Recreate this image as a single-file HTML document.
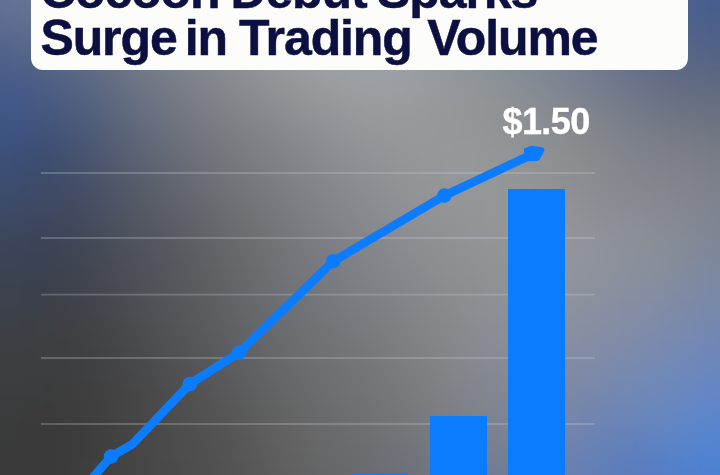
<!DOCTYPE html>
<html><head><meta charset="utf-8">
<style>
html,body{margin:0;padding:0;}
body{width:720px;height:475px;overflow:hidden;position:relative;background:#6f7178;}
#bg{position:absolute;left:0;top:0;width:720px;height:475px;filter:blur(14px);}
#bg i{position:absolute;display:block;width:20px;height:20px;}
#card{position:absolute;left:31px;top:-40px;width:657px;height:109.5px;background:#fcfcfb;border-radius:12px;}
.t{position:absolute;left:0;width:720px;height:50px;font:bold 50px/50px "Liberation Sans",sans-serif;color:#0c1040;white-space:nowrap;letter-spacing:-1.1px;-webkit-text-stroke:0.5px #0c1040;}
#l1{top:-34.5px;}
.t span{position:absolute;top:0;}
#l2{top:13px;}
#price{position:absolute;left:502.5px;top:101.3px;font:bold 36px "Liberation Sans",sans-serif;color:#fff;letter-spacing:-0.6px;-webkit-text-stroke:0.4px #fff;}
svg{position:absolute;left:0;top:0;}
</style></head>
<body>
<div id="bg"><i style="left:-60px;top:-60px;background:#637295"></i><i style="left:-40px;top:-60px;background:#637295"></i><i style="left:-20px;top:-60px;background:#637295"></i><i style="left:0px;top:-60px;background:#657395"></i><i style="left:20px;top:-60px;background:#687594"></i><i style="left:40px;top:-60px;background:#6b7793"></i><i style="left:60px;top:-60px;background:#6f7993"></i><i style="left:80px;top:-60px;background:#737d93"></i><i style="left:100px;top:-60px;background:#788094"></i><i style="left:120px;top:-60px;background:#7d8494"></i><i style="left:140px;top:-60px;background:#828896"></i><i style="left:160px;top:-60px;background:#878c97"></i><i style="left:180px;top:-60px;background:#8b8f9a"></i><i style="left:200px;top:-60px;background:#90939c"></i><i style="left:220px;top:-60px;background:#94979f"></i><i style="left:240px;top:-60px;background:#979aa1"></i><i style="left:260px;top:-60px;background:#9a9da4"></i><i style="left:280px;top:-60px;background:#9ca0a6"></i><i style="left:300px;top:-60px;background:#9ea1a8"></i><i style="left:320px;top:-60px;background:#9ea2a9"></i><i style="left:340px;top:-60px;background:#9ea3aa"></i><i style="left:360px;top:-60px;background:#9ca2aa"></i><i style="left:380px;top:-60px;background:#9aa0a9"></i><i style="left:400px;top:-60px;background:#979ea8"></i><i style="left:420px;top:-60px;background:#949ba6"></i><i style="left:440px;top:-60px;background:#8f97a4"></i><i style="left:460px;top:-60px;background:#8a93a1"></i><i style="left:480px;top:-60px;background:#858f9f"></i><i style="left:500px;top:-60px;background:#7f8a9d"></i><i style="left:520px;top:-60px;background:#79859b"></i><i style="left:540px;top:-60px;background:#737f99"></i><i style="left:560px;top:-60px;background:#6d7a97"></i><i style="left:580px;top:-60px;background:#667596"></i><i style="left:600px;top:-60px;background:#607094"></i><i style="left:620px;top:-60px;background:#5a6b92"></i><i style="left:640px;top:-60px;background:#546791"></i><i style="left:660px;top:-60px;background:#4f6390"></i><i style="left:680px;top:-60px;background:#4a6090"></i><i style="left:700px;top:-60px;background:#475d8f"></i><i style="left:720px;top:-60px;background:#455c8f"></i><i style="left:740px;top:-60px;background:#455c8f"></i><i style="left:760px;top:-60px;background:#455c8f"></i><i style="left:780px;top:-60px;background:#455c8f"></i><i style="left:-60px;top:-40px;background:#637295"></i><i style="left:-40px;top:-40px;background:#637295"></i><i style="left:-20px;top:-40px;background:#637295"></i><i style="left:0px;top:-40px;background:#657395"></i><i style="left:20px;top:-40px;background:#687594"></i><i style="left:40px;top:-40px;background:#6b7793"></i><i style="left:60px;top:-40px;background:#6f7993"></i><i style="left:80px;top:-40px;background:#737d93"></i><i style="left:100px;top:-40px;background:#788094"></i><i style="left:120px;top:-40px;background:#7d8494"></i><i style="left:140px;top:-40px;background:#828896"></i><i style="left:160px;top:-40px;background:#878c97"></i><i style="left:180px;top:-40px;background:#8b8f9a"></i><i style="left:200px;top:-40px;background:#90939c"></i><i style="left:220px;top:-40px;background:#94979f"></i><i style="left:240px;top:-40px;background:#979aa1"></i><i style="left:260px;top:-40px;background:#9a9da4"></i><i style="left:280px;top:-40px;background:#9ca0a6"></i><i style="left:300px;top:-40px;background:#9ea1a8"></i><i style="left:320px;top:-40px;background:#9ea2a9"></i><i style="left:340px;top:-40px;background:#9ea3aa"></i><i style="left:360px;top:-40px;background:#9ca2aa"></i><i style="left:380px;top:-40px;background:#9aa0a9"></i><i style="left:400px;top:-40px;background:#979ea8"></i><i style="left:420px;top:-40px;background:#949ba6"></i><i style="left:440px;top:-40px;background:#8f97a4"></i><i style="left:460px;top:-40px;background:#8a93a1"></i><i style="left:480px;top:-40px;background:#858f9f"></i><i style="left:500px;top:-40px;background:#7f8a9d"></i><i style="left:520px;top:-40px;background:#79859b"></i><i style="left:540px;top:-40px;background:#737f99"></i><i style="left:560px;top:-40px;background:#6d7a97"></i><i style="left:580px;top:-40px;background:#667596"></i><i style="left:600px;top:-40px;background:#607094"></i><i style="left:620px;top:-40px;background:#5a6b92"></i><i style="left:640px;top:-40px;background:#546791"></i><i style="left:660px;top:-40px;background:#4f6390"></i><i style="left:680px;top:-40px;background:#4a6090"></i><i style="left:700px;top:-40px;background:#475d8f"></i><i style="left:720px;top:-40px;background:#455c8f"></i><i style="left:740px;top:-40px;background:#455c8f"></i><i style="left:760px;top:-40px;background:#455c8f"></i><i style="left:780px;top:-40px;background:#455c8f"></i><i style="left:-60px;top:-20px;background:#637295"></i><i style="left:-40px;top:-20px;background:#637295"></i><i style="left:-20px;top:-20px;background:#637295"></i><i style="left:0px;top:-20px;background:#657395"></i><i style="left:20px;top:-20px;background:#687594"></i><i style="left:40px;top:-20px;background:#6b7793"></i><i style="left:60px;top:-20px;background:#6f7993"></i><i style="left:80px;top:-20px;background:#737d93"></i><i style="left:100px;top:-20px;background:#788094"></i><i style="left:120px;top:-20px;background:#7d8494"></i><i style="left:140px;top:-20px;background:#828896"></i><i style="left:160px;top:-20px;background:#878c97"></i><i style="left:180px;top:-20px;background:#8b8f9a"></i><i style="left:200px;top:-20px;background:#90939c"></i><i style="left:220px;top:-20px;background:#94979f"></i><i style="left:240px;top:-20px;background:#979aa1"></i><i style="left:260px;top:-20px;background:#9a9da4"></i><i style="left:280px;top:-20px;background:#9ca0a6"></i><i style="left:300px;top:-20px;background:#9ea1a8"></i><i style="left:320px;top:-20px;background:#9ea2a9"></i><i style="left:340px;top:-20px;background:#9ea3aa"></i><i style="left:360px;top:-20px;background:#9ca2aa"></i><i style="left:380px;top:-20px;background:#9aa0a9"></i><i style="left:400px;top:-20px;background:#979ea8"></i><i style="left:420px;top:-20px;background:#949ba6"></i><i style="left:440px;top:-20px;background:#8f97a4"></i><i style="left:460px;top:-20px;background:#8a93a1"></i><i style="left:480px;top:-20px;background:#858f9f"></i><i style="left:500px;top:-20px;background:#7f8a9d"></i><i style="left:520px;top:-20px;background:#79859b"></i><i style="left:540px;top:-20px;background:#737f99"></i><i style="left:560px;top:-20px;background:#6d7a97"></i><i style="left:580px;top:-20px;background:#667596"></i><i style="left:600px;top:-20px;background:#607094"></i><i style="left:620px;top:-20px;background:#5a6b92"></i><i style="left:640px;top:-20px;background:#546791"></i><i style="left:660px;top:-20px;background:#4f6390"></i><i style="left:680px;top:-20px;background:#4a6090"></i><i style="left:700px;top:-20px;background:#475d8f"></i><i style="left:720px;top:-20px;background:#455c8f"></i><i style="left:740px;top:-20px;background:#455c8f"></i><i style="left:760px;top:-20px;background:#455c8f"></i><i style="left:780px;top:-20px;background:#455c8f"></i><i style="left:-60px;top:0px;background:#606f93"></i><i style="left:-40px;top:0px;background:#606f93"></i><i style="left:-20px;top:0px;background:#606f93"></i><i style="left:0px;top:0px;background:#627093"></i><i style="left:20px;top:0px;background:#657292"></i><i style="left:40px;top:0px;background:#687492"></i><i style="left:60px;top:0px;background:#6c7791"></i><i style="left:80px;top:0px;background:#717a91"></i><i style="left:100px;top:0px;background:#767e92"></i><i style="left:120px;top:0px;background:#7b8292"></i><i style="left:140px;top:0px;background:#808694"></i><i style="left:160px;top:0px;background:#858a96"></i><i style="left:180px;top:0px;background:#8a8e98"></i><i style="left:200px;top:0px;background:#8f929a"></i><i style="left:220px;top:0px;background:#93969d"></i><i style="left:240px;top:0px;background:#9699a0"></i><i style="left:260px;top:0px;background:#999da3"></i><i style="left:280px;top:0px;background:#9c9fa5"></i><i style="left:300px;top:0px;background:#9ea1a7"></i><i style="left:320px;top:0px;background:#9ea2a8"></i><i style="left:340px;top:0px;background:#9ea3a9"></i><i style="left:360px;top:0px;background:#9da2a9"></i><i style="left:380px;top:0px;background:#9ba1a8"></i><i style="left:400px;top:0px;background:#989ea7"></i><i style="left:420px;top:0px;background:#949ba5"></i><i style="left:440px;top:0px;background:#9098a3"></i><i style="left:460px;top:0px;background:#8b93a0"></i><i style="left:480px;top:0px;background:#868f9e"></i><i style="left:500px;top:0px;background:#808a9c"></i><i style="left:520px;top:0px;background:#7b859a"></i><i style="left:540px;top:0px;background:#748098"></i><i style="left:560px;top:0px;background:#6e7b96"></i><i style="left:580px;top:0px;background:#687595"></i><i style="left:600px;top:0px;background:#617093"></i><i style="left:620px;top:0px;background:#5b6b91"></i><i style="left:640px;top:0px;background:#566790"></i><i style="left:660px;top:0px;background:#50638f"></i><i style="left:680px;top:0px;background:#4c608e"></i><i style="left:700px;top:0px;background:#485e8e"></i><i style="left:720px;top:0px;background:#475d8d"></i><i style="left:740px;top:0px;background:#475d8d"></i><i style="left:760px;top:0px;background:#475d8d"></i><i style="left:780px;top:0px;background:#475d8d"></i><i style="left:-60px;top:20px;background:#596a90"></i><i style="left:-40px;top:20px;background:#596a90"></i><i style="left:-20px;top:20px;background:#596a90"></i><i style="left:0px;top:20px;background:#5b6b8f"></i><i style="left:20px;top:20px;background:#5e6c8e"></i><i style="left:40px;top:20px;background:#616f8e"></i><i style="left:60px;top:20px;background:#66728d"></i><i style="left:80px;top:20px;background:#6b758d"></i><i style="left:100px;top:20px;background:#71798d"></i><i style="left:120px;top:20px;background:#777e8e"></i><i style="left:140px;top:20px;background:#7c8290"></i><i style="left:160px;top:20px;background:#828691"></i><i style="left:180px;top:20px;background:#878b94"></i><i style="left:200px;top:20px;background:#8c8f97"></i><i style="left:220px;top:20px;background:#90939a"></i><i style="left:240px;top:20px;background:#94979d"></i><i style="left:260px;top:20px;background:#989ba0"></i><i style="left:280px;top:20px;background:#9b9ea3"></i><i style="left:300px;top:20px;background:#9da0a5"></i><i style="left:320px;top:20px;background:#9ea2a7"></i><i style="left:340px;top:20px;background:#9fa2a8"></i><i style="left:360px;top:20px;background:#9ea2a8"></i><i style="left:380px;top:20px;background:#9ca1a7"></i><i style="left:400px;top:20px;background:#999fa6"></i><i style="left:420px;top:20px;background:#969ca3"></i><i style="left:440px;top:20px;background:#9298a1"></i><i style="left:460px;top:20px;background:#8d949e"></i><i style="left:480px;top:20px;background:#88909c"></i><i style="left:500px;top:20px;background:#838b9a"></i><i style="left:520px;top:20px;background:#7d8698"></i><i style="left:540px;top:20px;background:#778196"></i><i style="left:560px;top:20px;background:#717c94"></i><i style="left:580px;top:20px;background:#6b7792"></i><i style="left:600px;top:20px;background:#657290"></i><i style="left:620px;top:20px;background:#5f6d8e"></i><i style="left:640px;top:20px;background:#59688c"></i><i style="left:660px;top:20px;background:#54658b"></i><i style="left:680px;top:20px;background:#50628a"></i><i style="left:700px;top:20px;background:#4d608a"></i><i style="left:720px;top:20px;background:#4c5f8a"></i><i style="left:740px;top:20px;background:#4c5f8a"></i><i style="left:760px;top:20px;background:#4c5f8a"></i><i style="left:780px;top:20px;background:#4c5f8a"></i><i style="left:-60px;top:40px;background:#51648c"></i><i style="left:-40px;top:40px;background:#51648c"></i><i style="left:-20px;top:40px;background:#51648c"></i><i style="left:0px;top:40px;background:#53648c"></i><i style="left:20px;top:40px;background:#56668a"></i><i style="left:40px;top:40px;background:#5a698a"></i><i style="left:60px;top:40px;background:#5f6c89"></i><i style="left:80px;top:40px;background:#657089"></i><i style="left:100px;top:40px;background:#6b7489"></i><i style="left:120px;top:40px;background:#72798a"></i><i style="left:140px;top:40px;background:#787e8b"></i><i style="left:160px;top:40px;background:#7e828d"></i><i style="left:180px;top:40px;background:#838790"></i><i style="left:200px;top:40px;background:#898b93"></i><i style="left:220px;top:40px;background:#8d9096"></i><i style="left:240px;top:40px;background:#929499"></i><i style="left:260px;top:40px;background:#96989d"></i><i style="left:280px;top:40px;background:#9a9ca0"></i><i style="left:300px;top:40px;background:#9c9fa3"></i><i style="left:320px;top:40px;background:#9ea1a5"></i><i style="left:340px;top:40px;background:#9ea1a6"></i><i style="left:360px;top:40px;background:#9ea2a6"></i><i style="left:380px;top:40px;background:#9da1a6"></i><i style="left:400px;top:40px;background:#9a9fa4"></i><i style="left:420px;top:40px;background:#979ca2"></i><i style="left:440px;top:40px;background:#93989f"></i><i style="left:460px;top:40px;background:#8f959c"></i><i style="left:480px;top:40px;background:#8a919a"></i><i style="left:500px;top:40px;background:#858d98"></i><i style="left:520px;top:40px;background:#808896"></i><i style="left:540px;top:40px;background:#7b8394"></i><i style="left:560px;top:40px;background:#757e93"></i><i style="left:580px;top:40px;background:#6f7991"></i><i style="left:600px;top:40px;background:#69748e"></i><i style="left:620px;top:40px;background:#636f8c"></i><i style="left:640px;top:40px;background:#5e6b89"></i><i style="left:660px;top:40px;background:#596787"></i><i style="left:680px;top:40px;background:#566486"></i><i style="left:700px;top:40px;background:#536286"></i><i style="left:720px;top:40px;background:#526286"></i><i style="left:740px;top:40px;background:#526286"></i><i style="left:760px;top:40px;background:#526286"></i><i style="left:780px;top:40px;background:#526286"></i><i style="left:-60px;top:60px;background:#4a5e8a"></i><i style="left:-40px;top:60px;background:#4a5e8a"></i><i style="left:-20px;top:60px;background:#4a5e8a"></i><i style="left:0px;top:60px;background:#4b5e88"></i><i style="left:20px;top:60px;background:#4e6087"></i><i style="left:40px;top:60px;background:#526386"></i><i style="left:60px;top:60px;background:#586685"></i><i style="left:80px;top:60px;background:#5e6a85"></i><i style="left:100px;top:60px;background:#656f85"></i><i style="left:120px;top:60px;background:#6d7486"></i><i style="left:140px;top:60px;background:#747987"></i><i style="left:160px;top:60px;background:#7a7e89"></i><i style="left:180px;top:60px;background:#7f838c"></i><i style="left:200px;top:60px;background:#85878e"></i><i style="left:220px;top:60px;background:#8a8c92"></i><i style="left:240px;top:60px;background:#8e9095"></i><i style="left:260px;top:60px;background:#939599"></i><i style="left:280px;top:60px;background:#97999d"></i><i style="left:300px;top:60px;background:#9a9ca0"></i><i style="left:320px;top:60px;background:#9c9ea2"></i><i style="left:340px;top:60px;background:#9da0a4"></i><i style="left:360px;top:60px;background:#9da0a4"></i><i style="left:380px;top:60px;background:#9ca0a4"></i><i style="left:400px;top:60px;background:#9a9ea3"></i><i style="left:420px;top:60px;background:#979ba0"></i><i style="left:440px;top:60px;background:#94989d"></i><i style="left:460px;top:60px;background:#90959b"></i><i style="left:480px;top:60px;background:#8c9298"></i><i style="left:500px;top:60px;background:#888e96"></i><i style="left:520px;top:60px;background:#838a94"></i><i style="left:540px;top:60px;background:#7e8593"></i><i style="left:560px;top:60px;background:#798091"></i><i style="left:580px;top:60px;background:#737b8f"></i><i style="left:600px;top:60px;background:#6d768d"></i><i style="left:620px;top:60px;background:#68728a"></i><i style="left:640px;top:60px;background:#636d87"></i><i style="left:660px;top:60px;background:#5f6a84"></i><i style="left:680px;top:60px;background:#5c6783"></i><i style="left:700px;top:60px;background:#5a6682"></i><i style="left:720px;top:60px;background:#596682"></i><i style="left:740px;top:60px;background:#596682"></i><i style="left:760px;top:60px;background:#596682"></i><i style="left:780px;top:60px;background:#596682"></i><i style="left:-60px;top:80px;background:#445a89"></i><i style="left:-40px;top:80px;background:#445a89"></i><i style="left:-20px;top:80px;background:#445a89"></i><i style="left:0px;top:80px;background:#455a88"></i><i style="left:20px;top:80px;background:#475b86"></i><i style="left:40px;top:80px;background:#4c5d83"></i><i style="left:60px;top:80px;background:#516182"></i><i style="left:80px;top:80px;background:#586581"></i><i style="left:100px;top:80px;background:#606a81"></i><i style="left:120px;top:80px;background:#677082"></i><i style="left:140px;top:80px;background:#6f7583"></i><i style="left:160px;top:80px;background:#757a85"></i><i style="left:180px;top:80px;background:#7b7e87"></i><i style="left:200px;top:80px;background:#80838a"></i><i style="left:220px;top:80px;background:#85878d"></i><i style="left:240px;top:80px;background:#8a8c91"></i><i style="left:260px;top:80px;background:#8f9095"></i><i style="left:280px;top:80px;background:#939599"></i><i style="left:300px;top:80px;background:#96989c"></i><i style="left:320px;top:80px;background:#989b9f"></i><i style="left:340px;top:80px;background:#9a9da0"></i><i style="left:360px;top:80px;background:#9b9ea2"></i><i style="left:380px;top:80px;background:#9b9ea2"></i><i style="left:400px;top:80px;background:#9a9ca0"></i><i style="left:420px;top:80px;background:#979a9e"></i><i style="left:440px;top:80px;background:#94989c"></i><i style="left:460px;top:80px;background:#929599"></i><i style="left:480px;top:80px;background:#8e9397"></i><i style="left:500px;top:80px;background:#8b9095"></i><i style="left:520px;top:80px;background:#878c93"></i><i style="left:540px;top:80px;background:#828792"></i><i style="left:560px;top:80px;background:#7e8390"></i><i style="left:580px;top:80px;background:#787f8e"></i><i style="left:600px;top:80px;background:#737a8c"></i><i style="left:620px;top:80px;background:#6d7689"></i><i style="left:640px;top:80px;background:#697185"></i><i style="left:660px;top:80px;background:#666e82"></i><i style="left:680px;top:80px;background:#636c81"></i><i style="left:700px;top:80px;background:#616b81"></i><i style="left:720px;top:80px;background:#606a81"></i><i style="left:740px;top:80px;background:#606a81"></i><i style="left:760px;top:80px;background:#606a81"></i><i style="left:780px;top:80px;background:#606a81"></i><i style="left:-60px;top:100px;background:#405888"></i><i style="left:-40px;top:100px;background:#405888"></i><i style="left:-20px;top:100px;background:#405888"></i><i style="left:0px;top:100px;background:#415887"></i><i style="left:20px;top:100px;background:#425884"></i><i style="left:40px;top:100px;background:#46597f"></i><i style="left:60px;top:100px;background:#4b5b7d"></i><i style="left:80px;top:100px;background:#52607c"></i><i style="left:100px;top:100px;background:#5a657d"></i><i style="left:120px;top:100px;background:#626b7e"></i><i style="left:140px;top:100px;background:#697080"></i><i style="left:160px;top:100px;background:#707581"></i><i style="left:180px;top:100px;background:#767983"></i><i style="left:200px;top:100px;background:#7b7e85"></i><i style="left:220px;top:100px;background:#808288"></i><i style="left:240px;top:100px;background:#85878c"></i><i style="left:260px;top:100px;background:#898b90"></i><i style="left:280px;top:100px;background:#8d8f94"></i><i style="left:300px;top:100px;background:#919397"></i><i style="left:320px;top:100px;background:#94969a"></i><i style="left:340px;top:100px;background:#96999d"></i><i style="left:360px;top:100px;background:#989a9e"></i><i style="left:380px;top:100px;background:#999b9f"></i><i style="left:400px;top:100px;background:#989a9e"></i><i style="left:420px;top:100px;background:#96989c"></i><i style="left:440px;top:100px;background:#95979b"></i><i style="left:460px;top:100px;background:#939699"></i><i style="left:480px;top:100px;background:#909497"></i><i style="left:500px;top:100px;background:#8d9195"></i><i style="left:520px;top:100px;background:#8a8e93"></i><i style="left:540px;top:100px;background:#868a91"></i><i style="left:560px;top:100px;background:#82868f"></i><i style="left:580px;top:100px;background:#7e838c"></i><i style="left:600px;top:100px;background:#797f8a"></i><i style="left:620px;top:100px;background:#747a88"></i><i style="left:640px;top:100px;background:#6f7686"></i><i style="left:660px;top:100px;background:#6d7383"></i><i style="left:680px;top:100px;background:#6b7181"></i><i style="left:700px;top:100px;background:#697081"></i><i style="left:720px;top:100px;background:#687081"></i><i style="left:740px;top:100px;background:#687081"></i><i style="left:760px;top:100px;background:#687081"></i><i style="left:780px;top:100px;background:#687081"></i><i style="left:-60px;top:120px;background:#3d5483"></i><i style="left:-40px;top:120px;background:#3d5483"></i><i style="left:-20px;top:120px;background:#3d5483"></i><i style="left:0px;top:120px;background:#3d5482"></i><i style="left:20px;top:120px;background:#3e537d"></i><i style="left:40px;top:120px;background:#415379"></i><i style="left:60px;top:120px;background:#475677"></i><i style="left:80px;top:120px;background:#4e5b77"></i><i style="left:100px;top:120px;background:#556078"></i><i style="left:120px;top:120px;background:#5d6679"></i><i style="left:140px;top:120px;background:#646b7b"></i><i style="left:160px;top:120px;background:#6b707d"></i><i style="left:180px;top:120px;background:#71757e"></i><i style="left:200px;top:120px;background:#767980"></i><i style="left:220px;top:120px;background:#7b7d83"></i><i style="left:240px;top:120px;background:#808287"></i><i style="left:260px;top:120px;background:#84868b"></i><i style="left:280px;top:120px;background:#888a8f"></i><i style="left:300px;top:120px;background:#8c8e93"></i><i style="left:320px;top:120px;background:#8f9196"></i><i style="left:340px;top:120px;background:#929599"></i><i style="left:360px;top:120px;background:#95979b"></i><i style="left:380px;top:120px;background:#96989c"></i><i style="left:400px;top:120px;background:#96989c"></i><i style="left:420px;top:120px;background:#96989b"></i><i style="left:440px;top:120px;background:#95979b"></i><i style="left:460px;top:120px;background:#949799"></i><i style="left:480px;top:120px;background:#929597"></i><i style="left:500px;top:120px;background:#909395"></i><i style="left:520px;top:120px;background:#8d9093"></i><i style="left:540px;top:120px;background:#8a8d91"></i><i style="left:560px;top:120px;background:#87898e"></i><i style="left:580px;top:120px;background:#84868c"></i><i style="left:600px;top:120px;background:#7f838a"></i><i style="left:620px;top:120px;background:#7a7f89"></i><i style="left:640px;top:120px;background:#767c87"></i><i style="left:660px;top:120px;background:#747985"></i><i style="left:680px;top:120px;background:#737883"></i><i style="left:700px;top:120px;background:#717683"></i><i style="left:720px;top:120px;background:#707583"></i><i style="left:740px;top:120px;background:#707583"></i><i style="left:760px;top:120px;background:#707583"></i><i style="left:780px;top:120px;background:#707583"></i><i style="left:-60px;top:140px;background:#3c517c"></i><i style="left:-40px;top:140px;background:#3c517c"></i><i style="left:-20px;top:140px;background:#3c517c"></i><i style="left:0px;top:140px;background:#3c507a"></i><i style="left:20px;top:140px;background:#3b4e75"></i><i style="left:40px;top:140px;background:#3e4f72"></i><i style="left:60px;top:140px;background:#435271"></i><i style="left:80px;top:140px;background:#4a5671"></i><i style="left:100px;top:140px;background:#515b72"></i><i style="left:120px;top:140px;background:#596174"></i><i style="left:140px;top:140px;background:#606675"></i><i style="left:160px;top:140px;background:#666b77"></i><i style="left:180px;top:140px;background:#6c7079"></i><i style="left:200px;top:140px;background:#72757c"></i><i style="left:220px;top:140px;background:#77797f"></i><i style="left:240px;top:140px;background:#7c7d82"></i><i style="left:260px;top:140px;background:#808187"></i><i style="left:280px;top:140px;background:#84858b"></i><i style="left:300px;top:140px;background:#87898f"></i><i style="left:320px;top:140px;background:#8b8d92"></i><i style="left:340px;top:140px;background:#8f9195"></i><i style="left:360px;top:140px;background:#919398"></i><i style="left:380px;top:140px;background:#94959a"></i><i style="left:400px;top:140px;background:#95979a"></i><i style="left:420px;top:140px;background:#96979b"></i><i style="left:440px;top:140px;background:#96989b"></i><i style="left:460px;top:140px;background:#95979a"></i><i style="left:480px;top:140px;background:#949698"></i><i style="left:500px;top:140px;background:#929496"></i><i style="left:520px;top:140px;background:#8f9294"></i><i style="left:540px;top:140px;background:#8d8f92"></i><i style="left:560px;top:140px;background:#8a8c8f"></i><i style="left:580px;top:140px;background:#87898d"></i><i style="left:600px;top:140px;background:#83868b"></i><i style="left:620px;top:140px;background:#7f838a"></i><i style="left:640px;top:140px;background:#7c8089"></i><i style="left:660px;top:140px;background:#7b7e87"></i><i style="left:680px;top:140px;background:#7a7d86"></i><i style="left:700px;top:140px;background:#777b85"></i><i style="left:720px;top:140px;background:#757a86"></i><i style="left:740px;top:140px;background:#757a86"></i><i style="left:760px;top:140px;background:#757a86"></i><i style="left:780px;top:140px;background:#757a86"></i><i style="left:-60px;top:160px;background:#3c4e75"></i><i style="left:-40px;top:160px;background:#3c4e75"></i><i style="left:-20px;top:160px;background:#3c4e75"></i><i style="left:0px;top:160px;background:#3c4e73"></i><i style="left:20px;top:160px;background:#3c4c6f"></i><i style="left:40px;top:160px;background:#3e4c6c"></i><i style="left:60px;top:160px;background:#424e6a"></i><i style="left:80px;top:160px;background:#48526b"></i><i style="left:100px;top:160px;background:#4f586c"></i><i style="left:120px;top:160px;background:#565d6e"></i><i style="left:140px;top:160px;background:#5c6270"></i><i style="left:160px;top:160px;background:#626772"></i><i style="left:180px;top:160px;background:#696c75"></i><i style="left:200px;top:160px;background:#6e7178"></i><i style="left:220px;top:160px;background:#73757b"></i><i style="left:240px;top:160px;background:#787a7f"></i><i style="left:260px;top:160px;background:#7c7e83"></i><i style="left:280px;top:160px;background:#808287"></i><i style="left:300px;top:160px;background:#84868b"></i><i style="left:320px;top:160px;background:#888a8f"></i><i style="left:340px;top:160px;background:#8b8d92"></i><i style="left:360px;top:160px;background:#8e9095"></i><i style="left:380px;top:160px;background:#919397"></i><i style="left:400px;top:160px;background:#939599"></i><i style="left:420px;top:160px;background:#95969a"></i><i style="left:440px;top:160px;background:#95979a"></i><i style="left:460px;top:160px;background:#959799"></i><i style="left:480px;top:160px;background:#949698"></i><i style="left:500px;top:160px;background:#939596"></i><i style="left:520px;top:160px;background:#919395"></i><i style="left:540px;top:160px;background:#8f9193"></i><i style="left:560px;top:160px;background:#8c8e91"></i><i style="left:580px;top:160px;background:#898b8f"></i><i style="left:600px;top:160px;background:#85888e"></i><i style="left:620px;top:160px;background:#83868c"></i><i style="left:640px;top:160px;background:#81848b"></i><i style="left:660px;top:160px;background:#80828a"></i><i style="left:680px;top:160px;background:#7e8189"></i><i style="left:700px;top:160px;background:#7b7f89"></i><i style="left:720px;top:160px;background:#797e89"></i><i style="left:740px;top:160px;background:#797e89"></i><i style="left:760px;top:160px;background:#797e89"></i><i style="left:780px;top:160px;background:#797e89"></i><i style="left:-60px;top:180px;background:#3d4d6e"></i><i style="left:-40px;top:180px;background:#3d4d6e"></i><i style="left:-20px;top:180px;background:#3d4d6e"></i><i style="left:0px;top:180px;background:#3d4c6d"></i><i style="left:20px;top:180px;background:#3d4b69"></i><i style="left:40px;top:180px;background:#3f4a66"></i><i style="left:60px;top:180px;background:#424c65"></i><i style="left:80px;top:180px;background:#474f65"></i><i style="left:100px;top:180px;background:#4d5466"></i><i style="left:120px;top:180px;background:#535968"></i><i style="left:140px;top:180px;background:#595e6a"></i><i style="left:160px;top:180px;background:#5f636d"></i><i style="left:180px;top:180px;background:#656870"></i><i style="left:200px;top:180px;background:#6b6d73"></i><i style="left:220px;top:180px;background:#707277"></i><i style="left:240px;top:180px;background:#75767b"></i><i style="left:260px;top:180px;background:#797a7f"></i><i style="left:280px;top:180px;background:#7d7f83"></i><i style="left:300px;top:180px;background:#818388"></i><i style="left:320px;top:180px;background:#84868c"></i><i style="left:340px;top:180px;background:#888a8f"></i><i style="left:360px;top:180px;background:#8b8d92"></i><i style="left:380px;top:180px;background:#8e9095"></i><i style="left:400px;top:180px;background:#919397"></i><i style="left:420px;top:180px;background:#939598"></i><i style="left:440px;top:180px;background:#949699"></i><i style="left:460px;top:180px;background:#949799"></i><i style="left:480px;top:180px;background:#949698"></i><i style="left:500px;top:180px;background:#939697"></i><i style="left:520px;top:180px;background:#929496"></i><i style="left:540px;top:180px;background:#909295"></i><i style="left:560px;top:180px;background:#8d9094"></i><i style="left:580px;top:180px;background:#8a8d92"></i><i style="left:600px;top:180px;background:#878a91"></i><i style="left:620px;top:180px;background:#868890"></i><i style="left:640px;top:180px;background:#85878e"></i><i style="left:660px;top:180px;background:#83858d"></i><i style="left:680px;top:180px;background:#81848c"></i><i style="left:700px;top:180px;background:#7e818c"></i><i style="left:720px;top:180px;background:#7c808c"></i><i style="left:740px;top:180px;background:#7c808c"></i><i style="left:760px;top:180px;background:#7c808c"></i><i style="left:780px;top:180px;background:#7c808c"></i><i style="left:-60px;top:200px;background:#3d4a68"></i><i style="left:-40px;top:200px;background:#3d4a68"></i><i style="left:-20px;top:200px;background:#3d4a68"></i><i style="left:0px;top:200px;background:#3e4a66"></i><i style="left:20px;top:200px;background:#3e4963"></i><i style="left:40px;top:200px;background:#3f4861"></i><i style="left:60px;top:200px;background:#41495f"></i><i style="left:80px;top:200px;background:#464d60"></i><i style="left:100px;top:200px;background:#4b5261"></i><i style="left:120px;top:200px;background:#515663"></i><i style="left:140px;top:200px;background:#565b65"></i><i style="left:160px;top:200px;background:#5c5f67"></i><i style="left:180px;top:200px;background:#61646b"></i><i style="left:200px;top:200px;background:#67696f"></i><i style="left:220px;top:200px;background:#6d6e73"></i><i style="left:240px;top:200px;background:#717377"></i><i style="left:260px;top:200px;background:#75777c"></i><i style="left:280px;top:200px;background:#797b80"></i><i style="left:300px;top:200px;background:#7d8085"></i><i style="left:320px;top:200px;background:#818489"></i><i style="left:340px;top:200px;background:#85878d"></i><i style="left:360px;top:200px;background:#898b90"></i><i style="left:380px;top:200px;background:#8c8e93"></i><i style="left:400px;top:200px;background:#8f9195"></i><i style="left:420px;top:200px;background:#919396"></i><i style="left:440px;top:200px;background:#929597"></i><i style="left:460px;top:200px;background:#939697"></i><i style="left:480px;top:200px;background:#949697"></i><i style="left:500px;top:200px;background:#939697"></i><i style="left:520px;top:200px;background:#939597"></i><i style="left:540px;top:200px;background:#919497"></i><i style="left:560px;top:200px;background:#8f9296"></i><i style="left:580px;top:200px;background:#8d8f95"></i><i style="left:600px;top:200px;background:#8a8d94"></i><i style="left:620px;top:200px;background:#898c93"></i><i style="left:640px;top:200px;background:#878a91"></i><i style="left:660px;top:200px;background:#858890"></i><i style="left:680px;top:200px;background:#838690"></i><i style="left:700px;top:200px;background:#7f8490"></i><i style="left:720px;top:200px;background:#7d8390"></i><i style="left:740px;top:200px;background:#7d8390"></i><i style="left:760px;top:200px;background:#7d8390"></i><i style="left:780px;top:200px;background:#7d8390"></i><i style="left:-60px;top:220px;background:#3c4761"></i><i style="left:-40px;top:220px;background:#3c4761"></i><i style="left:-20px;top:220px;background:#3c4761"></i><i style="left:0px;top:220px;background:#3c475f"></i><i style="left:20px;top:220px;background:#3c455d"></i><i style="left:40px;top:220px;background:#3d455a"></i><i style="left:60px;top:220px;background:#40475a"></i><i style="left:80px;top:220px;background:#444a5a"></i><i style="left:100px;top:220px;background:#494f5c"></i><i style="left:120px;top:220px;background:#4e535e"></i><i style="left:140px;top:220px;background:#535760"></i><i style="left:160px;top:220px;background:#585b62"></i><i style="left:180px;top:220px;background:#5e6066"></i><i style="left:200px;top:220px;background:#63656a"></i><i style="left:220px;top:220px;background:#696a6f"></i><i style="left:240px;top:220px;background:#6e6f73"></i><i style="left:260px;top:220px;background:#727478"></i><i style="left:280px;top:220px;background:#76787d"></i><i style="left:300px;top:220px;background:#7b7d82"></i><i style="left:320px;top:220px;background:#7f8186"></i><i style="left:340px;top:220px;background:#82858a"></i><i style="left:360px;top:220px;background:#86888e"></i><i style="left:380px;top:220px;background:#898b91"></i><i style="left:400px;top:220px;background:#8c8e93"></i><i style="left:420px;top:220px;background:#8f9194"></i><i style="left:440px;top:220px;background:#909396"></i><i style="left:460px;top:220px;background:#929496"></i><i style="left:480px;top:220px;background:#939597"></i><i style="left:500px;top:220px;background:#939697"></i><i style="left:520px;top:220px;background:#939598"></i><i style="left:540px;top:220px;background:#929599"></i><i style="left:560px;top:220px;background:#919499"></i><i style="left:580px;top:220px;background:#8f9298"></i><i style="left:600px;top:220px;background:#8d9097"></i><i style="left:620px;top:220px;background:#8b8f96"></i><i style="left:640px;top:220px;background:#898d95"></i><i style="left:660px;top:220px;background:#878b94"></i><i style="left:680px;top:220px;background:#838894"></i><i style="left:700px;top:220px;background:#7f8694"></i><i style="left:720px;top:220px;background:#7d8494"></i><i style="left:740px;top:220px;background:#7d8494"></i><i style="left:760px;top:220px;background:#7d8494"></i><i style="left:780px;top:220px;background:#7d8494"></i><i style="left:-60px;top:240px;background:#3b455a"></i><i style="left:-40px;top:240px;background:#3b455a"></i><i style="left:-20px;top:240px;background:#3b455a"></i><i style="left:0px;top:240px;background:#3b4458"></i><i style="left:20px;top:240px;background:#3a4256"></i><i style="left:40px;top:240px;background:#3b4254"></i><i style="left:60px;top:240px;background:#3f4554"></i><i style="left:80px;top:240px;background:#434856"></i><i style="left:100px;top:240px;background:#484c58"></i><i style="left:120px;top:240px;background:#4d515a"></i><i style="left:140px;top:240px;background:#51545c"></i><i style="left:160px;top:240px;background:#56585f"></i><i style="left:180px;top:240px;background:#5b5c62"></i><i style="left:200px;top:240px;background:#606267"></i><i style="left:220px;top:240px;background:#65676b"></i><i style="left:240px;top:240px;background:#6a6c70"></i><i style="left:260px;top:240px;background:#6f7175"></i><i style="left:280px;top:240px;background:#74767b"></i><i style="left:300px;top:240px;background:#787a7f"></i><i style="left:320px;top:240px;background:#7c7e84"></i><i style="left:340px;top:240px;background:#808288"></i><i style="left:360px;top:240px;background:#83858b"></i><i style="left:380px;top:240px;background:#87898e"></i><i style="left:400px;top:240px;background:#8a8c91"></i><i style="left:420px;top:240px;background:#8c8e92"></i><i style="left:440px;top:240px;background:#8e9194"></i><i style="left:460px;top:240px;background:#909395"></i><i style="left:480px;top:240px;background:#919496"></i><i style="left:500px;top:240px;background:#929597"></i><i style="left:520px;top:240px;background:#929599"></i><i style="left:540px;top:240px;background:#92959a"></i><i style="left:560px;top:240px;background:#92959b"></i><i style="left:580px;top:240px;background:#90939b"></i><i style="left:600px;top:240px;background:#8e929a"></i><i style="left:620px;top:240px;background:#8c9099"></i><i style="left:640px;top:240px;background:#8a8f98"></i><i style="left:660px;top:240px;background:#878d98"></i><i style="left:680px;top:240px;background:#838a98"></i><i style="left:700px;top:240px;background:#7f8799"></i><i style="left:720px;top:240px;background:#7c8699"></i><i style="left:740px;top:240px;background:#7c8699"></i><i style="left:760px;top:240px;background:#7c8699"></i><i style="left:780px;top:240px;background:#7c8699"></i><i style="left:-60px;top:260px;background:#3b4354"></i><i style="left:-40px;top:260px;background:#3b4354"></i><i style="left:-20px;top:260px;background:#3b4354"></i><i style="left:0px;top:260px;background:#3b4253"></i><i style="left:20px;top:260px;background:#3a4150"></i><i style="left:40px;top:260px;background:#3b414f"></i><i style="left:60px;top:260px;background:#3e434f"></i><i style="left:80px;top:260px;background:#424651"></i><i style="left:100px;top:260px;background:#474b54"></i><i style="left:120px;top:260px;background:#4c4f57"></i><i style="left:140px;top:260px;background:#51535a"></i><i style="left:160px;top:260px;background:#55575d"></i><i style="left:180px;top:260px;background:#595b60"></i><i style="left:200px;top:260px;background:#5e6064"></i><i style="left:220px;top:260px;background:#636569"></i><i style="left:240px;top:260px;background:#686a6e"></i><i style="left:260px;top:260px;background:#6d6f73"></i><i style="left:280px;top:260px;background:#717478"></i><i style="left:300px;top:260px;background:#75787d"></i><i style="left:320px;top:260px;background:#797c81"></i><i style="left:340px;top:260px;background:#7d7f85"></i><i style="left:360px;top:260px;background:#818389"></i><i style="left:380px;top:260px;background:#84868c"></i><i style="left:400px;top:260px;background:#87898e"></i><i style="left:420px;top:260px;background:#8a8c90"></i><i style="left:440px;top:260px;background:#8c8f92"></i><i style="left:460px;top:260px;background:#8e9194"></i><i style="left:480px;top:260px;background:#909395"></i><i style="left:500px;top:260px;background:#919497"></i><i style="left:520px;top:260px;background:#919499"></i><i style="left:540px;top:260px;background:#91949b"></i><i style="left:560px;top:260px;background:#91949c"></i><i style="left:580px;top:260px;background:#8f939c"></i><i style="left:600px;top:260px;background:#8d919c"></i><i style="left:620px;top:260px;background:#8a909c"></i><i style="left:640px;top:260px;background:#888f9c"></i><i style="left:660px;top:260px;background:#858d9c"></i><i style="left:680px;top:260px;background:#818a9d"></i><i style="left:700px;top:260px;background:#7d889e"></i><i style="left:720px;top:260px;background:#7b879f"></i><i style="left:740px;top:260px;background:#7b879f"></i><i style="left:760px;top:260px;background:#7b879f"></i><i style="left:780px;top:260px;background:#7b879f"></i><i style="left:-60px;top:280px;background:#3c424f"></i><i style="left:-40px;top:280px;background:#3c424f"></i><i style="left:-20px;top:280px;background:#3c424f"></i><i style="left:0px;top:280px;background:#3c414e"></i><i style="left:20px;top:280px;background:#3b404c"></i><i style="left:40px;top:280px;background:#3c404b"></i><i style="left:60px;top:280px;background:#3e424b"></i><i style="left:80px;top:280px;background:#41454d"></i><i style="left:100px;top:280px;background:#464950"></i><i style="left:120px;top:280px;background:#4b4e54"></i><i style="left:140px;top:280px;background:#505259"></i><i style="left:160px;top:280px;background:#54565c"></i><i style="left:180px;top:280px;background:#585a5f"></i><i style="left:200px;top:280px;background:#5d5f63"></i><i style="left:220px;top:280px;background:#616368"></i><i style="left:240px;top:280px;background:#66696d"></i><i style="left:260px;top:280px;background:#6b6e72"></i><i style="left:280px;top:280px;background:#6f7276"></i><i style="left:300px;top:280px;background:#73767b"></i><i style="left:320px;top:280px;background:#77797f"></i><i style="left:340px;top:280px;background:#7a7d82"></i><i style="left:360px;top:280px;background:#7e8086"></i><i style="left:380px;top:280px;background:#818389"></i><i style="left:400px;top:280px;background:#84868c"></i><i style="left:420px;top:280px;background:#878a8e"></i><i style="left:440px;top:280px;background:#8a8d90"></i><i style="left:460px;top:280px;background:#8c8f92"></i><i style="left:480px;top:280px;background:#8e9194"></i><i style="left:500px;top:280px;background:#8f9297"></i><i style="left:520px;top:280px;background:#909399"></i><i style="left:540px;top:280px;background:#90939b"></i><i style="left:560px;top:280px;background:#8f939d"></i><i style="left:580px;top:280px;background:#8d919e"></i><i style="left:600px;top:280px;background:#8a909e"></i><i style="left:620px;top:280px;background:#888e9f"></i><i style="left:640px;top:280px;background:#858da0"></i><i style="left:660px;top:280px;background:#828ca1"></i><i style="left:680px;top:280px;background:#7f8aa2"></i><i style="left:700px;top:280px;background:#7b88a4"></i><i style="left:720px;top:280px;background:#7987a5"></i><i style="left:740px;top:280px;background:#7987a5"></i><i style="left:760px;top:280px;background:#7987a5"></i><i style="left:780px;top:280px;background:#7987a5"></i><i style="left:-60px;top:300px;background:#3c414a"></i><i style="left:-40px;top:300px;background:#3c414a"></i><i style="left:-20px;top:300px;background:#3c414a"></i><i style="left:0px;top:300px;background:#3c4149"></i><i style="left:20px;top:300px;background:#3c4048"></i><i style="left:40px;top:300px;background:#3d4047"></i><i style="left:60px;top:300px;background:#3e4147"></i><i style="left:80px;top:300px;background:#414449"></i><i style="left:100px;top:300px;background:#45484c"></i><i style="left:120px;top:300px;background:#4a4c51"></i><i style="left:140px;top:300px;background:#4f5156"></i><i style="left:160px;top:300px;background:#53555a"></i><i style="left:180px;top:300px;background:#57595d"></i><i style="left:200px;top:300px;background:#5c5d61"></i><i style="left:220px;top:300px;background:#606266"></i><i style="left:240px;top:300px;background:#65676b"></i><i style="left:260px;top:300px;background:#696c70"></i><i style="left:280px;top:300px;background:#6d7074"></i><i style="left:300px;top:300px;background:#717478"></i><i style="left:320px;top:300px;background:#74777c"></i><i style="left:340px;top:300px;background:#787a7f"></i><i style="left:360px;top:300px;background:#7b7d82"></i><i style="left:380px;top:300px;background:#7e8086"></i><i style="left:400px;top:300px;background:#828488"></i><i style="left:420px;top:300px;background:#85878b"></i><i style="left:440px;top:300px;background:#888a8e"></i><i style="left:460px;top:300px;background:#8a8d91"></i><i style="left:480px;top:300px;background:#8c8f94"></i><i style="left:500px;top:300px;background:#8d9097"></i><i style="left:520px;top:300px;background:#8e9199"></i><i style="left:540px;top:300px;background:#8d919c"></i><i style="left:560px;top:300px;background:#8c919e"></i><i style="left:580px;top:300px;background:#8a90a0"></i><i style="left:600px;top:300px;background:#878ea1"></i><i style="left:620px;top:300px;background:#848da2"></i><i style="left:640px;top:300px;background:#828ca4"></i><i style="left:660px;top:300px;background:#7f8ba6"></i><i style="left:680px;top:300px;background:#7b89a8"></i><i style="left:700px;top:300px;background:#7788aa"></i><i style="left:720px;top:300px;background:#7587ab"></i><i style="left:740px;top:300px;background:#7587ab"></i><i style="left:760px;top:300px;background:#7587ab"></i><i style="left:780px;top:300px;background:#7587ab"></i><i style="left:-60px;top:320px;background:#3c4147"></i><i style="left:-40px;top:320px;background:#3c4147"></i><i style="left:-20px;top:320px;background:#3c4147"></i><i style="left:0px;top:320px;background:#3c4046"></i><i style="left:20px;top:320px;background:#3c4045"></i><i style="left:40px;top:320px;background:#3d4044"></i><i style="left:60px;top:320px;background:#3e4044"></i><i style="left:80px;top:320px;background:#414345"></i><i style="left:100px;top:320px;background:#444648"></i><i style="left:120px;top:320px;background:#494a4d"></i><i style="left:140px;top:320px;background:#4e4f52"></i><i style="left:160px;top:320px;background:#525357"></i><i style="left:180px;top:320px;background:#56575b"></i><i style="left:200px;top:320px;background:#5a5c5f"></i><i style="left:220px;top:320px;background:#5e6064"></i><i style="left:240px;top:320px;background:#636568"></i><i style="left:260px;top:320px;background:#676a6d"></i><i style="left:280px;top:320px;background:#6b6e71"></i><i style="left:300px;top:320px;background:#6f7175"></i><i style="left:320px;top:320px;background:#727578"></i><i style="left:340px;top:320px;background:#75787c"></i><i style="left:360px;top:320px;background:#797b7f"></i><i style="left:380px;top:320px;background:#7c7e82"></i><i style="left:400px;top:320px;background:#808286"></i><i style="left:420px;top:320px;background:#838589"></i><i style="left:440px;top:320px;background:#86888c"></i><i style="left:460px;top:320px;background:#888b90"></i><i style="left:480px;top:320px;background:#8a8d93"></i><i style="left:500px;top:320px;background:#8b8f96"></i><i style="left:520px;top:320px;background:#8b8f9a"></i><i style="left:540px;top:320px;background:#8a8f9d"></i><i style="left:560px;top:320px;background:#898fa0"></i><i style="left:580px;top:320px;background:#878ea2"></i><i style="left:600px;top:320px;background:#848da4"></i><i style="left:620px;top:320px;background:#818ca7"></i><i style="left:640px;top:320px;background:#7e8ba9"></i><i style="left:660px;top:320px;background:#7b8aab"></i><i style="left:680px;top:320px;background:#7889ae"></i><i style="left:700px;top:320px;background:#7487b0"></i><i style="left:720px;top:320px;background:#7287b1"></i><i style="left:740px;top:320px;background:#7287b1"></i><i style="left:760px;top:320px;background:#7287b1"></i><i style="left:780px;top:320px;background:#7287b1"></i><i style="left:-60px;top:340px;background:#3c4044"></i><i style="left:-40px;top:340px;background:#3c4044"></i><i style="left:-20px;top:340px;background:#3c4044"></i><i style="left:0px;top:340px;background:#3c3f43"></i><i style="left:20px;top:340px;background:#3c3f42"></i><i style="left:40px;top:340px;background:#3d3f41"></i><i style="left:60px;top:340px;background:#3e3f42"></i><i style="left:80px;top:340px;background:#404143"></i><i style="left:100px;top:340px;background:#434446"></i><i style="left:120px;top:340px;background:#47484a"></i><i style="left:140px;top:340px;background:#4c4d4f"></i><i style="left:160px;top:340px;background:#505154"></i><i style="left:180px;top:340px;background:#545558"></i><i style="left:200px;top:340px;background:#585a5c"></i><i style="left:220px;top:340px;background:#5d5e61"></i><i style="left:240px;top:340px;background:#616365"></i><i style="left:260px;top:340px;background:#65676a"></i><i style="left:280px;top:340px;background:#696b6e"></i><i style="left:300px;top:340px;background:#6d6f72"></i><i style="left:320px;top:340px;background:#707275"></i><i style="left:340px;top:340px;background:#737579"></i><i style="left:360px;top:340px;background:#76797c"></i><i style="left:380px;top:340px;background:#7a7c7f"></i><i style="left:400px;top:340px;background:#7e8083"></i><i style="left:420px;top:340px;background:#818387"></i><i style="left:440px;top:340px;background:#84878a"></i><i style="left:460px;top:340px;background:#86898e"></i><i style="left:480px;top:340px;background:#888b92"></i><i style="left:500px;top:340px;background:#888c96"></i><i style="left:520px;top:340px;background:#888d9a"></i><i style="left:540px;top:340px;background:#878d9e"></i><i style="left:560px;top:340px;background:#858da2"></i><i style="left:580px;top:340px;background:#838ca5"></i><i style="left:600px;top:340px;background:#808ba8"></i><i style="left:620px;top:340px;background:#7d8bab"></i><i style="left:640px;top:340px;background:#7a8aae"></i><i style="left:660px;top:340px;background:#7789b1"></i><i style="left:680px;top:340px;background:#7388b4"></i><i style="left:700px;top:340px;background:#6f87b7"></i><i style="left:720px;top:340px;background:#6d86b8"></i><i style="left:740px;top:340px;background:#6d86b8"></i><i style="left:760px;top:340px;background:#6d86b8"></i><i style="left:780px;top:340px;background:#6d86b8"></i><i style="left:-60px;top:360px;background:#3c3f41"></i><i style="left:-40px;top:360px;background:#3c3f41"></i><i style="left:-20px;top:360px;background:#3c3f41"></i><i style="left:0px;top:360px;background:#3c3f40"></i><i style="left:20px;top:360px;background:#3c3e3f"></i><i style="left:40px;top:360px;background:#3c3e3f"></i><i style="left:60px;top:360px;background:#3d3e40"></i><i style="left:80px;top:360px;background:#3f4042"></i><i style="left:100px;top:360px;background:#434344"></i><i style="left:120px;top:360px;background:#464748"></i><i style="left:140px;top:360px;background:#4a4b4c"></i><i style="left:160px;top:360px;background:#4f4f51"></i><i style="left:180px;top:360px;background:#535355"></i><i style="left:200px;top:360px;background:#575759"></i><i style="left:220px;top:360px;background:#5b5c5e"></i><i style="left:240px;top:360px;background:#5f6062"></i><i style="left:260px;top:360px;background:#636567"></i><i style="left:280px;top:360px;background:#67696b"></i><i style="left:300px;top:360px;background:#6b6d6e"></i><i style="left:320px;top:360px;background:#6e7072"></i><i style="left:340px;top:360px;background:#717375"></i><i style="left:360px;top:360px;background:#747679"></i><i style="left:380px;top:360px;background:#787a7d"></i><i style="left:400px;top:360px;background:#7b7d81"></i><i style="left:420px;top:360px;background:#7f8185"></i><i style="left:440px;top:360px;background:#828589"></i><i style="left:460px;top:360px;background:#84878d"></i><i style="left:480px;top:360px;background:#858991"></i><i style="left:500px;top:360px;background:#858a96"></i><i style="left:520px;top:360px;background:#848b9b"></i><i style="left:540px;top:360px;background:#838b9f"></i><i style="left:560px;top:360px;background:#818aa4"></i><i style="left:580px;top:360px;background:#7e8aa7"></i><i style="left:600px;top:360px;background:#7b8aab"></i><i style="left:620px;top:360px;background:#7889af"></i><i style="left:640px;top:360px;background:#7589b3"></i><i style="left:660px;top:360px;background:#7289b6"></i><i style="left:680px;top:360px;background:#6e88ba"></i><i style="left:700px;top:360px;background:#6a87bd"></i><i style="left:720px;top:360px;background:#6986be"></i><i style="left:740px;top:360px;background:#6986be"></i><i style="left:760px;top:360px;background:#6986be"></i><i style="left:780px;top:360px;background:#6986be"></i><i style="left:-60px;top:380px;background:#3c3e3f"></i><i style="left:-40px;top:380px;background:#3c3e3f"></i><i style="left:-20px;top:380px;background:#3c3e3f"></i><i style="left:0px;top:380px;background:#3c3d3e"></i><i style="left:20px;top:380px;background:#3c3d3d"></i><i style="left:40px;top:380px;background:#3c3c3d"></i><i style="left:60px;top:380px;background:#3d3d3e"></i><i style="left:80px;top:380px;background:#3f3f40"></i><i style="left:100px;top:380px;background:#424243"></i><i style="left:120px;top:380px;background:#464546"></i><i style="left:140px;top:380px;background:#49494a"></i><i style="left:160px;top:380px;background:#4d4d4f"></i><i style="left:180px;top:380px;background:#515153"></i><i style="left:200px;top:380px;background:#555556"></i><i style="left:220px;top:380px;background:#59595b"></i><i style="left:240px;top:380px;background:#5d5e5f"></i><i style="left:260px;top:380px;background:#626263"></i><i style="left:280px;top:380px;background:#666768"></i><i style="left:300px;top:380px;background:#696b6c"></i><i style="left:320px;top:380px;background:#6c6e6f"></i><i style="left:340px;top:380px;background:#6f7173"></i><i style="left:360px;top:380px;background:#727476"></i><i style="left:380px;top:380px;background:#76787a"></i><i style="left:400px;top:380px;background:#797b7e"></i><i style="left:420px;top:380px;background:#7d7f82"></i><i style="left:440px;top:380px;background:#7f8287"></i><i style="left:460px;top:380px;background:#81858b"></i><i style="left:480px;top:380px;background:#828790"></i><i style="left:500px;top:380px;background:#828896"></i><i style="left:520px;top:380px;background:#81899c"></i><i style="left:540px;top:380px;background:#7e89a1"></i><i style="left:560px;top:380px;background:#7c88a6"></i><i style="left:580px;top:380px;background:#7987aa"></i><i style="left:600px;top:380px;background:#7687af"></i><i style="left:620px;top:380px;background:#7388b3"></i><i style="left:640px;top:380px;background:#7088b7"></i><i style="left:660px;top:380px;background:#6d88bc"></i><i style="left:680px;top:380px;background:#6987bf"></i><i style="left:700px;top:380px;background:#6586c3"></i><i style="left:720px;top:380px;background:#6386c4"></i><i style="left:740px;top:380px;background:#6386c4"></i><i style="left:760px;top:380px;background:#6386c4"></i><i style="left:780px;top:380px;background:#6386c4"></i><i style="left:-60px;top:400px;background:#3b3c3d"></i><i style="left:-40px;top:400px;background:#3b3c3d"></i><i style="left:-20px;top:400px;background:#3b3c3d"></i><i style="left:0px;top:400px;background:#3b3c3c"></i><i style="left:20px;top:400px;background:#3b3b3c"></i><i style="left:40px;top:400px;background:#3b3b3c"></i><i style="left:60px;top:400px;background:#3c3c3d"></i><i style="left:80px;top:400px;background:#3e3e3f"></i><i style="left:100px;top:400px;background:#414142"></i><i style="left:120px;top:400px;background:#454545"></i><i style="left:140px;top:400px;background:#494949"></i><i style="left:160px;top:400px;background:#4c4c4d"></i><i style="left:180px;top:400px;background:#505050"></i><i style="left:200px;top:400px;background:#535354"></i><i style="left:220px;top:400px;background:#575758"></i><i style="left:240px;top:400px;background:#5b5c5c"></i><i style="left:260px;top:400px;background:#606061"></i><i style="left:280px;top:400px;background:#646565"></i><i style="left:300px;top:400px;background:#686969"></i><i style="left:320px;top:400px;background:#6b6c6d"></i><i style="left:340px;top:400px;background:#6d6f71"></i><i style="left:360px;top:400px;background:#707274"></i><i style="left:380px;top:400px;background:#737578"></i><i style="left:400px;top:400px;background:#77797c"></i><i style="left:420px;top:400px;background:#7a7c81"></i><i style="left:440px;top:400px;background:#7d8085"></i><i style="left:460px;top:400px;background:#7e828a"></i><i style="left:480px;top:400px;background:#7f848f"></i><i style="left:500px;top:400px;background:#7e8696"></i><i style="left:520px;top:400px;background:#7d869d"></i><i style="left:540px;top:400px;background:#7a87a3"></i><i style="left:560px;top:400px;background:#7786a9"></i><i style="left:580px;top:400px;background:#7385ae"></i><i style="left:600px;top:400px;background:#7085b2"></i><i style="left:620px;top:400px;background:#6d86b7"></i><i style="left:640px;top:400px;background:#6b87bb"></i><i style="left:660px;top:400px;background:#6787c0"></i><i style="left:680px;top:400px;background:#6387c5"></i><i style="left:700px;top:400px;background:#5f86c8"></i><i style="left:720px;top:400px;background:#5d85ca"></i><i style="left:740px;top:400px;background:#5d85ca"></i><i style="left:760px;top:400px;background:#5d85ca"></i><i style="left:780px;top:400px;background:#5d85ca"></i><i style="left:-60px;top:420px;background:#3a3b3b"></i><i style="left:-40px;top:420px;background:#3a3b3b"></i><i style="left:-20px;top:420px;background:#3a3b3b"></i><i style="left:0px;top:420px;background:#3a3b3b"></i><i style="left:20px;top:420px;background:#3a3a3a"></i><i style="left:40px;top:420px;background:#3a3a3a"></i><i style="left:60px;top:420px;background:#3b3b3b"></i><i style="left:80px;top:420px;background:#3e3d3e"></i><i style="left:100px;top:420px;background:#414141"></i><i style="left:120px;top:420px;background:#454445"></i><i style="left:140px;top:420px;background:#484848"></i><i style="left:160px;top:420px;background:#4c4b4c"></i><i style="left:180px;top:420px;background:#4f4e4f"></i><i style="left:200px;top:420px;background:#525252"></i><i style="left:220px;top:420px;background:#555556"></i><i style="left:240px;top:420px;background:#5a5a5a"></i><i style="left:260px;top:420px;background:#5f5f5f"></i><i style="left:280px;top:420px;background:#636363"></i><i style="left:300px;top:420px;background:#676767"></i><i style="left:320px;top:420px;background:#6a6a6b"></i><i style="left:340px;top:420px;background:#6c6d6f"></i><i style="left:360px;top:420px;background:#6e7073"></i><i style="left:380px;top:420px;background:#717377"></i><i style="left:400px;top:420px;background:#74767b"></i><i style="left:420px;top:420px;background:#777a7f"></i><i style="left:440px;top:420px;background:#797d84"></i><i style="left:460px;top:420px;background:#7b7f89"></i><i style="left:480px;top:420px;background:#7c828f"></i><i style="left:500px;top:420px;background:#7b8396"></i><i style="left:520px;top:420px;background:#78849e"></i><i style="left:540px;top:420px;background:#7585a6"></i><i style="left:560px;top:420px;background:#7285ad"></i><i style="left:580px;top:420px;background:#6e84b2"></i><i style="left:600px;top:420px;background:#6a83b5"></i><i style="left:620px;top:420px;background:#6782b9"></i><i style="left:640px;top:420px;background:#6484be"></i><i style="left:660px;top:420px;background:#6085c4"></i><i style="left:680px;top:420px;background:#5c85c9"></i><i style="left:700px;top:420px;background:#5985cd"></i><i style="left:720px;top:420px;background:#5784cf"></i><i style="left:740px;top:420px;background:#5784cf"></i><i style="left:760px;top:420px;background:#5784cf"></i><i style="left:780px;top:420px;background:#5784cf"></i><i style="left:-60px;top:440px;background:#3a3b3b"></i><i style="left:-40px;top:440px;background:#3a3b3b"></i><i style="left:-20px;top:440px;background:#3a3b3b"></i><i style="left:0px;top:440px;background:#3a3a3a"></i><i style="left:20px;top:440px;background:#3a3a3a"></i><i style="left:40px;top:440px;background:#3a3a3a"></i><i style="left:60px;top:440px;background:#3b3b3b"></i><i style="left:80px;top:440px;background:#3e3d3d"></i><i style="left:100px;top:440px;background:#414141"></i><i style="left:120px;top:440px;background:#454444"></i><i style="left:140px;top:440px;background:#484848"></i><i style="left:160px;top:440px;background:#4b4b4b"></i><i style="left:180px;top:440px;background:#4e4e4e"></i><i style="left:200px;top:440px;background:#515051"></i><i style="left:220px;top:440px;background:#545455"></i><i style="left:240px;top:440px;background:#585859"></i><i style="left:260px;top:440px;background:#5d5d5d"></i><i style="left:280px;top:440px;background:#626262"></i><i style="left:300px;top:440px;background:#666666"></i><i style="left:320px;top:440px;background:#68696a"></i><i style="left:340px;top:440px;background:#6a6b6e"></i><i style="left:360px;top:440px;background:#6c6e72"></i><i style="left:380px;top:440px;background:#6e7176"></i><i style="left:400px;top:440px;background:#71747a"></i><i style="left:420px;top:440px;background:#73777f"></i><i style="left:440px;top:440px;background:#767a83"></i><i style="left:460px;top:440px;background:#777d89"></i><i style="left:480px;top:440px;background:#787f8f"></i><i style="left:500px;top:440px;background:#768196"></i><i style="left:520px;top:440px;background:#7482a0"></i><i style="left:540px;top:440px;background:#7083a8"></i><i style="left:560px;top:440px;background:#6c83b0"></i><i style="left:580px;top:440px;background:#6882b5"></i><i style="left:600px;top:440px;background:#647fb7"></i><i style="left:620px;top:440px;background:#607fbb"></i><i style="left:640px;top:440px;background:#5d80c0"></i><i style="left:660px;top:440px;background:#5a82c7"></i><i style="left:680px;top:440px;background:#5683cd"></i><i style="left:700px;top:440px;background:#5283d1"></i><i style="left:720px;top:440px;background:#5183d3"></i><i style="left:740px;top:440px;background:#5183d3"></i><i style="left:760px;top:440px;background:#5183d3"></i><i style="left:780px;top:440px;background:#5183d3"></i><i style="left:-60px;top:460px;background:#3a3a3a"></i><i style="left:-40px;top:460px;background:#3a3a3a"></i><i style="left:-20px;top:460px;background:#3a3a3a"></i><i style="left:0px;top:460px;background:#3a3a3a"></i><i style="left:20px;top:460px;background:#3a3a3a"></i><i style="left:40px;top:460px;background:#3a3a3a"></i><i style="left:60px;top:460px;background:#3b3b3b"></i><i style="left:80px;top:460px;background:#3e3e3d"></i><i style="left:100px;top:460px;background:#414141"></i><i style="left:120px;top:460px;background:#444444"></i><i style="left:140px;top:460px;background:#484848"></i><i style="left:160px;top:460px;background:#4a4a4b"></i><i style="left:180px;top:460px;background:#4d4d4e"></i><i style="left:200px;top:460px;background:#4f5051"></i><i style="left:220px;top:460px;background:#535354"></i><i style="left:240px;top:460px;background:#575758"></i><i style="left:260px;top:460px;background:#5b5b5c"></i><i style="left:280px;top:460px;background:#606061"></i><i style="left:300px;top:460px;background:#636465"></i><i style="left:320px;top:460px;background:#666769"></i><i style="left:340px;top:460px;background:#68696d"></i><i style="left:360px;top:460px;background:#696c71"></i><i style="left:380px;top:460px;background:#6c6f75"></i><i style="left:400px;top:460px;background:#6e727a"></i><i style="left:420px;top:460px;background:#70757f"></i><i style="left:440px;top:460px;background:#727884"></i><i style="left:460px;top:460px;background:#737a89"></i><i style="left:480px;top:460px;background:#737c90"></i><i style="left:500px;top:460px;background:#717e98"></i><i style="left:520px;top:460px;background:#6f7fa1"></i><i style="left:540px;top:460px;background:#6b80aa"></i><i style="left:560px;top:460px;background:#6780b2"></i><i style="left:580px;top:460px;background:#637fb6"></i><i style="left:600px;top:460px;background:#5e7db9"></i><i style="left:620px;top:460px;background:#5a7cbd"></i><i style="left:640px;top:460px;background:#577dc2"></i><i style="left:660px;top:460px;background:#537fc9"></i><i style="left:680px;top:460px;background:#5080cf"></i><i style="left:700px;top:460px;background:#4c81d4"></i><i style="left:720px;top:460px;background:#4b81d6"></i><i style="left:740px;top:460px;background:#4b81d6"></i><i style="left:760px;top:460px;background:#4b81d6"></i><i style="left:780px;top:460px;background:#4b81d6"></i><i style="left:-60px;top:480px;background:#3a3a3a"></i><i style="left:-40px;top:480px;background:#3a3a3a"></i><i style="left:-20px;top:480px;background:#3a3a3a"></i><i style="left:0px;top:480px;background:#3a3a3a"></i><i style="left:20px;top:480px;background:#3a3a3a"></i><i style="left:40px;top:480px;background:#3a3a3a"></i><i style="left:60px;top:480px;background:#3c3b3b"></i><i style="left:80px;top:480px;background:#3e3e3e"></i><i style="left:100px;top:480px;background:#414141"></i><i style="left:120px;top:480px;background:#444444"></i><i style="left:140px;top:480px;background:#474848"></i><i style="left:160px;top:480px;background:#4a4a4b"></i><i style="left:180px;top:480px;background:#4d4d4d"></i><i style="left:200px;top:480px;background:#4f4f50"></i><i style="left:220px;top:480px;background:#525354"></i><i style="left:240px;top:480px;background:#565658"></i><i style="left:260px;top:480px;background:#5b5b5c"></i><i style="left:280px;top:480px;background:#5f5f60"></i><i style="left:300px;top:480px;background:#636365"></i><i style="left:320px;top:480px;background:#656669"></i><i style="left:340px;top:480px;background:#67696d"></i><i style="left:360px;top:480px;background:#696c71"></i><i style="left:380px;top:480px;background:#6b6e75"></i><i style="left:400px;top:480px;background:#6d717a"></i><i style="left:420px;top:480px;background:#6f747f"></i><i style="left:440px;top:480px;background:#717784"></i><i style="left:460px;top:480px;background:#727a8a"></i><i style="left:480px;top:480px;background:#727c90"></i><i style="left:500px;top:480px;background:#707e98"></i><i style="left:520px;top:480px;background:#6e7fa1"></i><i style="left:540px;top:480px;background:#6a80aa"></i><i style="left:560px;top:480px;background:#6680b2"></i><i style="left:580px;top:480px;background:#627eb6"></i><i style="left:600px;top:480px;background:#5d7cb9"></i><i style="left:620px;top:480px;background:#597cbd"></i><i style="left:640px;top:480px;background:#567dc3"></i><i style="left:660px;top:480px;background:#527ec9"></i><i style="left:680px;top:480px;background:#4f80d0"></i><i style="left:700px;top:480px;background:#4b81d5"></i><i style="left:720px;top:480px;background:#4a81d6"></i><i style="left:740px;top:480px;background:#4a81d6"></i><i style="left:760px;top:480px;background:#4a81d6"></i><i style="left:780px;top:480px;background:#4a81d6"></i><i style="left:-60px;top:500px;background:#3a3a3a"></i><i style="left:-40px;top:500px;background:#3a3a3a"></i><i style="left:-20px;top:500px;background:#3a3a3a"></i><i style="left:0px;top:500px;background:#3a3a3a"></i><i style="left:20px;top:500px;background:#3a3a3a"></i><i style="left:40px;top:500px;background:#3a3a3a"></i><i style="left:60px;top:500px;background:#3c3b3b"></i><i style="left:80px;top:500px;background:#3e3e3e"></i><i style="left:100px;top:500px;background:#414141"></i><i style="left:120px;top:500px;background:#444444"></i><i style="left:140px;top:500px;background:#474848"></i><i style="left:160px;top:500px;background:#4a4a4b"></i><i style="left:180px;top:500px;background:#4d4d4d"></i><i style="left:200px;top:500px;background:#4f4f50"></i><i style="left:220px;top:500px;background:#525354"></i><i style="left:240px;top:500px;background:#565658"></i><i style="left:260px;top:500px;background:#5b5b5c"></i><i style="left:280px;top:500px;background:#5f5f60"></i><i style="left:300px;top:500px;background:#636365"></i><i style="left:320px;top:500px;background:#656669"></i><i style="left:340px;top:500px;background:#67696d"></i><i style="left:360px;top:500px;background:#696c71"></i><i style="left:380px;top:500px;background:#6b6e75"></i><i style="left:400px;top:500px;background:#6d717a"></i><i style="left:420px;top:500px;background:#6f747f"></i><i style="left:440px;top:500px;background:#717784"></i><i style="left:460px;top:500px;background:#727a8a"></i><i style="left:480px;top:500px;background:#727c90"></i><i style="left:500px;top:500px;background:#707e98"></i><i style="left:520px;top:500px;background:#6e7fa1"></i><i style="left:540px;top:500px;background:#6a80aa"></i><i style="left:560px;top:500px;background:#6680b2"></i><i style="left:580px;top:500px;background:#627eb6"></i><i style="left:600px;top:500px;background:#5d7cb9"></i><i style="left:620px;top:500px;background:#597cbd"></i><i style="left:640px;top:500px;background:#567dc3"></i><i style="left:660px;top:500px;background:#527ec9"></i><i style="left:680px;top:500px;background:#4f80d0"></i><i style="left:700px;top:500px;background:#4b81d5"></i><i style="left:720px;top:500px;background:#4a81d6"></i><i style="left:740px;top:500px;background:#4a81d6"></i><i style="left:760px;top:500px;background:#4a81d6"></i><i style="left:780px;top:500px;background:#4a81d6"></i><i style="left:-60px;top:520px;background:#3a3a3a"></i><i style="left:-40px;top:520px;background:#3a3a3a"></i><i style="left:-20px;top:520px;background:#3a3a3a"></i><i style="left:0px;top:520px;background:#3a3a3a"></i><i style="left:20px;top:520px;background:#3a3a3a"></i><i style="left:40px;top:520px;background:#3a3a3a"></i><i style="left:60px;top:520px;background:#3c3b3b"></i><i style="left:80px;top:520px;background:#3e3e3e"></i><i style="left:100px;top:520px;background:#414141"></i><i style="left:120px;top:520px;background:#444444"></i><i style="left:140px;top:520px;background:#474848"></i><i style="left:160px;top:520px;background:#4a4a4b"></i><i style="left:180px;top:520px;background:#4d4d4d"></i><i style="left:200px;top:520px;background:#4f4f50"></i><i style="left:220px;top:520px;background:#525354"></i><i style="left:240px;top:520px;background:#565658"></i><i style="left:260px;top:520px;background:#5b5b5c"></i><i style="left:280px;top:520px;background:#5f5f60"></i><i style="left:300px;top:520px;background:#636365"></i><i style="left:320px;top:520px;background:#656669"></i><i style="left:340px;top:520px;background:#67696d"></i><i style="left:360px;top:520px;background:#696c71"></i><i style="left:380px;top:520px;background:#6b6e75"></i><i style="left:400px;top:520px;background:#6d717a"></i><i style="left:420px;top:520px;background:#6f747f"></i><i style="left:440px;top:520px;background:#717784"></i><i style="left:460px;top:520px;background:#727a8a"></i><i style="left:480px;top:520px;background:#727c90"></i><i style="left:500px;top:520px;background:#707e98"></i><i style="left:520px;top:520px;background:#6e7fa1"></i><i style="left:540px;top:520px;background:#6a80aa"></i><i style="left:560px;top:520px;background:#6680b2"></i><i style="left:580px;top:520px;background:#627eb6"></i><i style="left:600px;top:520px;background:#5d7cb9"></i><i style="left:620px;top:520px;background:#597cbd"></i><i style="left:640px;top:520px;background:#567dc3"></i><i style="left:660px;top:520px;background:#527ec9"></i><i style="left:680px;top:520px;background:#4f80d0"></i><i style="left:700px;top:520px;background:#4b81d5"></i><i style="left:720px;top:520px;background:#4a81d6"></i><i style="left:740px;top:520px;background:#4a81d6"></i><i style="left:760px;top:520px;background:#4a81d6"></i><i style="left:780px;top:520px;background:#4a81d6"></i><i style="left:-60px;top:540px;background:#3a3a3a"></i><i style="left:-40px;top:540px;background:#3a3a3a"></i><i style="left:-20px;top:540px;background:#3a3a3a"></i><i style="left:0px;top:540px;background:#3a3a3a"></i><i style="left:20px;top:540px;background:#3a3a3a"></i><i style="left:40px;top:540px;background:#3a3a3a"></i><i style="left:60px;top:540px;background:#3c3b3b"></i><i style="left:80px;top:540px;background:#3e3e3e"></i><i style="left:100px;top:540px;background:#414141"></i><i style="left:120px;top:540px;background:#444444"></i><i style="left:140px;top:540px;background:#474848"></i><i style="left:160px;top:540px;background:#4a4a4b"></i><i style="left:180px;top:540px;background:#4d4d4d"></i><i style="left:200px;top:540px;background:#4f4f50"></i><i style="left:220px;top:540px;background:#525354"></i><i style="left:240px;top:540px;background:#565658"></i><i style="left:260px;top:540px;background:#5b5b5c"></i><i style="left:280px;top:540px;background:#5f5f60"></i><i style="left:300px;top:540px;background:#636365"></i><i style="left:320px;top:540px;background:#656669"></i><i style="left:340px;top:540px;background:#67696d"></i><i style="left:360px;top:540px;background:#696c71"></i><i style="left:380px;top:540px;background:#6b6e75"></i><i style="left:400px;top:540px;background:#6d717a"></i><i style="left:420px;top:540px;background:#6f747f"></i><i style="left:440px;top:540px;background:#717784"></i><i style="left:460px;top:540px;background:#727a8a"></i><i style="left:480px;top:540px;background:#727c90"></i><i style="left:500px;top:540px;background:#707e98"></i><i style="left:520px;top:540px;background:#6e7fa1"></i><i style="left:540px;top:540px;background:#6a80aa"></i><i style="left:560px;top:540px;background:#6680b2"></i><i style="left:580px;top:540px;background:#627eb6"></i><i style="left:600px;top:540px;background:#5d7cb9"></i><i style="left:620px;top:540px;background:#597cbd"></i><i style="left:640px;top:540px;background:#567dc3"></i><i style="left:660px;top:540px;background:#527ec9"></i><i style="left:680px;top:540px;background:#4f80d0"></i><i style="left:700px;top:540px;background:#4b81d5"></i><i style="left:720px;top:540px;background:#4a81d6"></i><i style="left:740px;top:540px;background:#4a81d6"></i><i style="left:760px;top:540px;background:#4a81d6"></i><i style="left:780px;top:540px;background:#4a81d6"></i></div>
<div id="card"></div>
<div class="t" id="l1"><span style="left:40px">Cocoon</span> <span style="left:230.4px">Debut</span> <span style="left:377px">Sparks</span></div>
<div class="t" id="l2"><span style="left:40.4px">Surge</span> <span style="left:184.8px">in</span> <span style="left:238.9px">Trading</span> <span style="left:427.2px">Volume</span></div>
<div id="price">$1.50</div>
<svg width="720" height="475" viewBox="0 0 720 475">
 <g stroke="rgba(200,205,215,0.28)" stroke-width="1.8">
  <line x1="41" y1="173" x2="595" y2="173"/>
  <line x1="41" y1="238" x2="595" y2="238"/>
  <line x1="41" y1="294.6" x2="595" y2="294.6"/>
  <line x1="41" y1="358" x2="595" y2="358"/>
  <line x1="41" y1="424" x2="595" y2="424"/>
 </g>
 <g fill="#0c7cff">
  <rect x="352" y="473.3" width="56" height="10"/>
  <rect x="430" y="416" width="57" height="70"/>
  <rect x="508" y="189" width="57" height="300"/>
 </g>
 <g fill="none" stroke="#0c7cff" stroke-width="8.6" stroke-linejoin="round" stroke-linecap="round">
  <polyline points="82,490 111.1,456.5 132.4,444.2 189.8,384 239.1,352.7 333.3,261.2 444.4,195.6 533,154"/>
 </g>
 <g fill="#0c7cff">
  <circle cx="111.1" cy="456.5" r="7.3"/>
  <circle cx="189.8" cy="384" r="7.3"/>
  <circle cx="239.1" cy="352.7" r="7.3"/>
  <circle cx="333.3" cy="261.2" r="7.3"/>
  <circle cx="444.4" cy="195.6" r="7.3"/>
  <polygon points="524.8,149 531.7,146.4 543,148.3 543.8,150.4 539.1,158.9 537,160.3 529,160.6 524.8,154" stroke="#0c7cff" stroke-width="1.5" stroke-linejoin="round"/>
 </g>
</svg>
</body></html>
